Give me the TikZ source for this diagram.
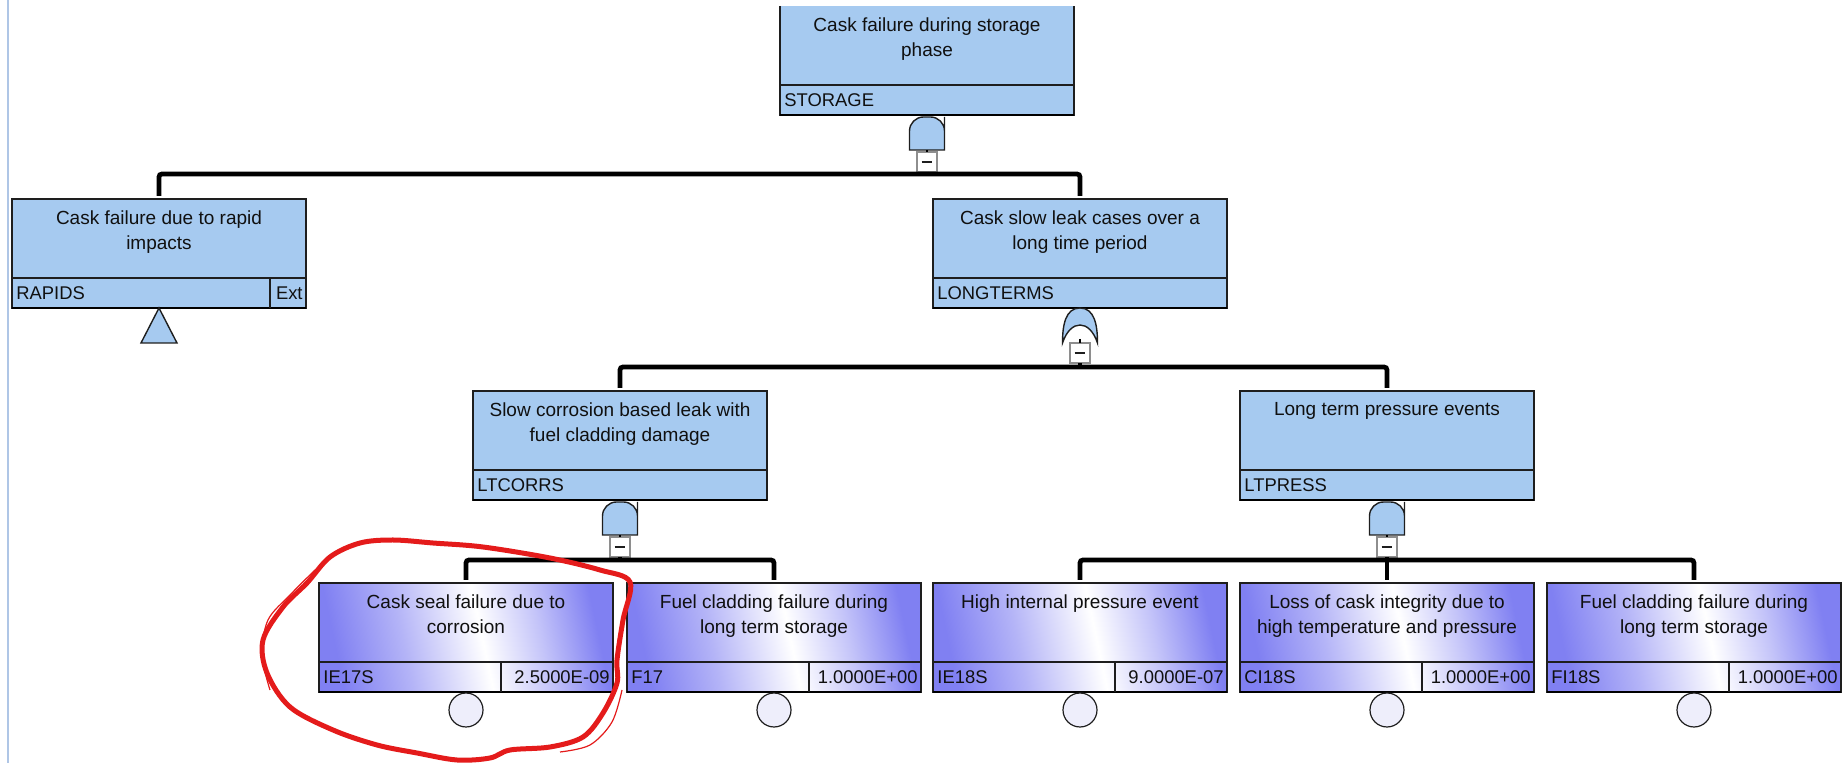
\documentclass[tikz,border=0pt]{standalone}
\usepackage{fontspec}
\setmainfont{Liberation Sans}
\definecolor{gatefill}{HTML}{A6CAF0}
\definecolor{boxline}{HTML}{1E1E1E}
\definecolor{txt}{HTML}{101010}
\definecolor{leafblue}{HTML}{8080F2}
\definecolor{leafmidA}{HTML}{B4B4F7}
\definecolor{leafmidB}{HTML}{C4C4F9}
\definecolor{minusgrey}{HTML}{8E8E8E}
\definecolor{annot}{HTML}{E41B1B}
\definecolor{winline}{HTML}{AFC6E6}
\definecolor{circfill}{HTML}{EEEEFB}
\pgfdeclarehorizontalshading{leafshade}{100bp}{color(0bp)=(leafblue); color(25bp)=(leafblue); color(38bp)=(leafmidA); color(53bp)=(white); color(64bp)=(leafmidB); color(75bp)=(leafblue); color(100bp)=(leafblue)}
\newcommand\descfont{\fontsize{9.5pt}{12.5pt}\selectfont}
\newcommand\labfont{\fontsize{9.2pt}{11pt}\selectfont}
\newcommand\boxparts[3]{%
  \node[desc] (#1-t) at ([yshift=-5.5pt]#1.north) {#2};
  \draw[divider] ([yshift=15pt]#1.south west) -- ([yshift=15pt]#1.south east);
  \node[idlab] (#1-id) at ([xshift=2pt,yshift=4.3pt]#1.south west) {#3};
  \draw[shadowline] (#1.south west) -- (#1.south east);
}
\newcommand\valcell[2]{%
  \draw[divider] ([xshift=91pt]#1.south west) -- ++(0,15pt);
  \node[vallab] (#1-v) at ([xshift=-1.5pt,yshift=4.3pt]#1.south east) {#2};
}
\newcommand\andgate[2]{%
  \draw[gateshape] (#1-17.5,#2+35) -- (#1-17.5,#2+16) [rounded corners=7pt]-- (#1-17.5,#2+2) -- (#1+17.5,#2+2) -- (#1+17.5,#2+16) [sharp corners]-- (#1+17.5,#2+35) -- cycle;
}
\begin{document}
\begin{tikzpicture}[x=0.5pt,y=-0.5pt,
  gatebox/.style={draw=boxline, line width=0.8pt, fill=gatefill, minimum width=147pt, minimum height=54.5pt, inner sep=0pt, outer sep=0pt, anchor=north},
  leafbox/.style={draw=boxline, line width=0.8pt, shade, shading=leafshade, shading angle=12, minimum width=147pt, minimum height=54.5pt, inner sep=0pt, outer sep=0pt, anchor=north},
  desc/.style={font=\descfont, align=center, inner sep=0pt, anchor=north, text=txt},
  idlab/.style={font=\labfont, inner sep=0pt, anchor=base west, text=txt},
  vallab/.style={font=\labfont, inner sep=0pt, anchor=base east, text=txt},
  divider/.style={draw=boxline, line width=0.7pt},
  boxedge/.style={draw=boxline, line width=0.8pt},
  shadowline/.style={draw=black, line width=1.4pt},
  gateshape/.style={draw=boxline, line width=0.7pt, fill=gatefill},
  minusbox/.style={draw=minusgrey, line width=0.6pt, fill=white, minimum size=10pt, inner sep=0pt, outer sep=0pt},
  minusline/.style={draw=boxline, line width=0.7pt},
  stub/.style={draw=black, line width=1pt},
  bar/.style={draw=black, line width=2.4pt, rounded corners=1.5pt},
  barconn/.style={bar, shorten <=1.5pt, shorten >=1.5pt},
  evcircle/.style={circle, draw=boxline, line width=0.6pt, fill=circfill, minimum size=17pt, inner sep=0pt, outer sep=0pt},
  scribble/.style={draw=annot, line width=2.5pt, line join=round},
  scribblethin/.style={draw=annot, line width=0.6pt}
]
\useasboundingbox (0,0) rectangle (1843,763);
\draw[draw=winline, line width=0.7pt] (8,0) -- (8,763);

% ---------- top event ----------
\node[gatebox, draw=none] (S) at (927,6) {};
\draw[boxedge] (S.north west) -- (S.south west) -- (S.south east) -- (S.north east);
\boxparts{S}{Cask failure during storage\\phase}{STORAGE}
\andgate{927}{115}
\coordinate (gS) at (927,150);
\node[minusbox] (mS) at (927,162) {};
\draw[minusline] ([xshift=-2.7pt]mS.center) -- ([xshift=2.7pt]mS.center);
\draw[stub] (gS) -- (mS.north);

% ---------- level 1 ----------
\node[gatebox] (R) at (159,199) {};
\boxparts{R}{Cask failure due to rapid\\impacts}{RAPIDS}
\draw[divider] ([xshift=129pt]R.south west) -- ++(0,15pt);
\node[vallab] (R-v) at ([xshift=-1.5pt,yshift=4.3pt]R.south east) {Ext};
\draw[gateshape] (159,308) -- (177,343) -- (141,343) -- cycle;

\node[gatebox] (L) at (1080,199) {};
\boxparts{L}{Cask slow leak cases over a\\long time period}{LONGTERMS}
\draw[gateshape] (1062.5,343) .. controls (1062.5,325) and (1065.5,308) .. (1080,308) .. controls (1094.5,308) and (1097.5,325) .. (1097.5,343) .. controls (1089.5,319) and (1070.5,319) .. (1062.5,343) -- cycle;
\coordinate (gL) at (1080,339);
\node[minusbox] (mL) at (1080,353) {};
\draw[minusline] ([xshift=-2.7pt]mL.center) -- ([xshift=2.7pt]mL.center);
\draw[stub] (gL) -- (mL.north);

\coordinate (b1) at (927,174);
\draw[bar] (mS.south) -- (b1);
\draw[barconn] (R.north) |- (b1) -| (L.north);

% ---------- level 2 ----------
\node[gatebox] (C) at (620,391) {};
\boxparts{C}{Slow corrosion based leak with\\fuel cladding damage}{LTCORRS}
\andgate{620}{500}
\coordinate (gC) at (620,535);
\node[minusbox] (mC) at (620,547) {};
\draw[minusline] ([xshift=-2.7pt]mC.center) -- ([xshift=2.7pt]mC.center);
\draw[stub] (gC) -- (mC.north);

\node[gatebox] (P) at (1387,391) {};
\boxparts{P}{Long term pressure events}{LTPRESS}
\andgate{1387}{500}
\coordinate (gP) at (1387,535);
\node[minusbox] (mP) at (1387,547) {};
\draw[minusline] ([xshift=-2.7pt]mP.center) -- ([xshift=2.7pt]mP.center);
\draw[stub] (gP) -- (mP.north);

\coordinate (b2) at (1080,367);
\draw[bar] (mL.south) -- (b2);
\draw[barconn] (C.north) |- (b2) -| (P.north);

% ---------- basic events ----------
\node[leafbox] (IE17S) at (466,583) {};
\boxparts{IE17S}{Cask seal failure due to\\corrosion}{IE17S}
\valcell{IE17S}{2.5000E-09}
\node[evcircle] (IE17S-c) at (466,710) {};

\node[leafbox] (F17) at (774,583) {};
\boxparts{F17}{Fuel cladding failure during\\long term storage}{F17}
\valcell{F17}{1.0000E+00}
\node[evcircle] (F17-c) at (774,710) {};

\node[leafbox] (IE18S) at (1080,583) {};
\boxparts{IE18S}{High internal pressure event}{IE18S}
\valcell{IE18S}{9.0000E-07}
\node[evcircle] (IE18S-c) at (1080,710) {};

\node[leafbox] (CI18S) at (1387,583) {};
\boxparts{CI18S}{Loss of cask integrity due to\\high temperature and pressure}{CI18S}
\valcell{CI18S}{1.0000E+00}
\node[evcircle] (CI18S-c) at (1387,710) {};

\node[leafbox] (FI18S) at (1694,583) {};
\boxparts{FI18S}{Fuel cladding failure during\\long term storage}{FI18S}
\valcell{FI18S}{1.0000E+00}
\node[evcircle] (FI18S-c) at (1694,710) {};

\coordinate (b3) at (620,560);
\draw[bar] (mC.south) -- (b3);
\draw[barconn] (IE17S.north) |- (b3) -| (F17.north);

\coordinate (b4) at (1387,560);
\draw[bar] (mP.south) -- (b4);
\draw[barconn] (IE18S.north) |- (b4) -| (FI18S.north);
\draw[bar, shorten >=1.5pt] (b4) -- (CI18S.north);

% ---------- red hand-drawn annotation ----------
\draw[scribble] plot[smooth cycle, tension=0.55] coordinates {(393,540) (433,543) (483,547) (550,558) (600,570) (630,582) (623,620) (617,660) (617,683) (603,713) (583,737) (550,747) (510,750) (490,758) (457,760) (417,753) (377,745) (333,730) (290,707) (267,673) (263,640) (283,607) (307,583) (330,557) (360,543)};
\draw[scribblethin] plot[smooth, tension=0.55] coordinates {(270,690) (262,655) (268,620) (290,595) (315,570)};
\draw[scribblethin] plot[smooth, tension=0.55] coordinates {(560,752) (590,745) (612,722) (622,690)};
\end{tikzpicture}
\end{document}
